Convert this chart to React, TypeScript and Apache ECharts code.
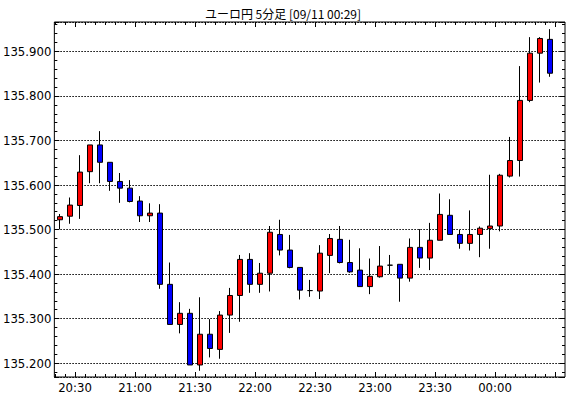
import React, { useEffect, useRef } from "react";
import * as echarts from "echarts";

const times = [
  "20:20", "20:25", "20:30", "20:35", "20:40", "20:45", "20:50", "20:55",
  "21:00", "21:05", "21:10", "21:15", "21:20", "21:25", "21:30", "21:35",
  "21:40", "21:45", "21:50", "21:55", "22:00", "22:05", "22:10", "22:15",
  "22:20", "22:25", "22:30", "22:35", "22:40", "22:45", "22:50", "22:55",
  "23:00", "23:05", "23:10", "23:15", "23:20", "23:25", "23:30", "23:35",
  "23:40", "23:45", "23:50", "23:55", "00:00", "00:05", "00:10", "00:15",
  "00:20", "00:25",
];

const opens = [
  135.522, 135.530, 135.554, 135.630, 135.690, 135.651, 135.608, 135.593,
  135.564, 135.531, 135.537, 135.377, 135.287, 135.312, 135.196, 135.265,
  135.231, 135.308, 135.352, 135.433, 135.377, 135.402, 135.489, 135.454,
  135.415, 135.363, 135.362, 135.442, 135.478, 135.426, 135.409, 135.372,
  135.394, 135.420, 135.422, 135.391, 135.460, 135.436, 135.476, 135.532,
  135.489, 135.469, 135.489, 135.502, 135.508, 135.620, 135.655, 135.790,
  135.896, 135.927,
];

const closes = [
  135.529, 135.555, 135.629, 135.690, 135.651, 135.608, 135.593, 135.563,
  135.531, 135.537, 135.377, 135.287, 135.312, 135.196, 135.265, 135.233,
  135.308, 135.352, 135.433, 135.377, 135.402, 135.494, 135.454, 135.415,
  135.364, 135.363, 135.447, 135.480, 135.426, 135.405, 135.372, 135.395,
  135.418, 135.420, 135.391, 135.460, 135.436, 135.476, 135.534, 135.489,
  135.469, 135.489, 135.503, 135.508, 135.622, 135.655, 135.790, 135.896,
  135.929, 135.851,
];

const lows = [
  135.501, 135.513, 135.524, 135.604, 135.604, 135.587, 135.560, 135.561,
  135.517, 135.517, 135.367, 135.287, 135.267, 135.196, 135.183, 135.213,
  135.210, 135.268, 135.293, 135.358, 135.358, 135.361, 135.442, 135.413,
  135.343, 135.349, 135.344, 135.402, 135.424, 135.403, 135.372, 135.355,
  135.392, 135.400, 135.338, 135.383, 135.414, 135.409, 135.476, 135.489,
  135.457, 135.453, 135.438, 135.457, 135.496, 135.617, 135.619, 135.786,
  135.830, 135.843,
];

const highs = [
  135.535, 135.572, 135.667, 135.690, 135.721, 135.651, 135.627, 135.611,
  135.575, 135.559, 135.557, 135.426, 135.337, 135.322, 135.348, 135.299,
  135.317, 135.369, 135.443, 135.447, 135.425, 135.508, 135.522, 135.488,
  135.415, 135.387, 135.465, 135.490, 135.508, 135.477, 135.458, 135.435,
  135.463, 135.443, 135.422, 135.480, 135.501, 135.515, 135.581, 135.568,
  135.499, 135.543, 135.507, 135.623, 135.625, 135.708, 135.867, 135.932,
  135.932, 135.950,
];

const labelTimes = ["20:30", "21:00", "21:30", "22:00", "22:30", "23:00", "23:30", "00:00"];

const yMin = 135.169;
const yMax = 135.966;

const titleText = "ユーロ円 5分足 [09/11 00:29]";

export default function App() {
  const ref = useRef<HTMLDivElement>(null);

  useEffect(() => {
    if (!ref.current) return;
    const chart = echarts.init(ref.current, null, { renderer: "svg" });
    const font = "'Liberation Sans Narrow', 'DejaVu Sans Condensed', 'Liberation Sans', sans-serif";
    const isLabel = (i: number) => labelTimes.indexOf(times[i]) >= 0;

    const catAxis = (position: string, major: boolean, showLabel: boolean) => ({
      type: "category",
      gridIndex: 1,
      data: times,
      position,
      boundaryGap: true,
      axisLine: { show: false },
      axisTick: {
        show: true,
        inside: true,
        length: major ? 5 : 3,
        interval: major ? (i: number) => isLabel(i) : 0,
        lineStyle: { color: "#000", width: 1 },
      },
      axisLabel: showLabel
        ? {
            show: true,
            interval: (i: number) => isLabel(i),
            color: "#000",
            fontSize: 13,
            fontFamily: font,
            margin: 4,
            padding: [0, 10, 0, 0],
          }
        : { show: false },
      splitLine: { show: false },
    });

    const yFormatter = (v: number) =>
      Math.abs(v * 10 - Math.round(v * 10)) < 1e-6 ? v.toFixed(3) : "";

    const valY = (position: string, labels: boolean, split: boolean) => ({
      type: "value",
      gridIndex: 0,
      position,
      min: yMin,
      max: yMax,
      minInterval: 0.1,
      maxInterval: 0.1,
      splitNumber: 8,
      axisLine: { show: false },
      axisTick: { show: true, inside: true, length: 5, lineStyle: { color: "#000", width: 1 } },
      minorTick: { show: true, splitNumber: 5, length: 3, lineStyle: { color: "#000", width: 1 } },
      axisLabel: labels
        ? { show: true, color: "#000", fontSize: 13, fontFamily: font, margin: 3, formatter: yFormatter }
        : { show: false },
      splitLine: split
        ? { show: true, lineStyle: { color: "#000", width: 1, type: [1.5, 1.5] } }
        : { show: false },
    });

    chart.setOption({
      animation: false,
      backgroundColor: "#fff",
      graphic: [
        {
          type: "text",
          x: 283,
          y: 13,
          style: {
            text: titleText,
            fill: "#000",
            font: "12px 'Noto Sans CJK JP', sans-serif",
            textAlign: "center",
            textVerticalAlign: "middle",
          },
        },
      ],
      grid: [
        { left: 50, top: 22, width: 515, height: 355, show: true, borderColor: "#000", borderWidth: 1, backgroundColor: "transparent" },
        { left: 55, top: 22, width: 500, height: 355 },
      ],
      xAxis: [
        { type: "value", gridIndex: 0, show: false, min: 0, max: 1 },
        catAxis("bottom", false, false),
        catAxis("bottom", true, true),
        catAxis("top", false, false),
        catAxis("top", true, false),
      ],
      yAxis: [
        valY("left", true, true),
        valY("right", false, false),
        { type: "value", gridIndex: 1, show: false, min: yMin, max: yMax, splitLine: { show: false } },
      ],
      series: [
        {
          type: "candlestick",
          xAxisIndex: 1,
          yAxisIndex: 2,
          barWidth: 5,
          data: times.map((_, i) => [opens[i], closes[i], lows[i], highs[i]]),
          itemStyle: {
            color: "#ff0000",
            color0: "#0000ff",
            borderColor: "#000",
            borderColor0: "#000",
            borderColorDoji: "#000",
            borderWidth: 1,
          },
        },
      ],
    });

    return () => chart.dispose();
  }, []);

  return (
    <div
      ref={ref}
      style={{ position: "absolute", left: 0, top: 0, width: 570, height: 398, background: "#fff" }}
    />
  );
}
